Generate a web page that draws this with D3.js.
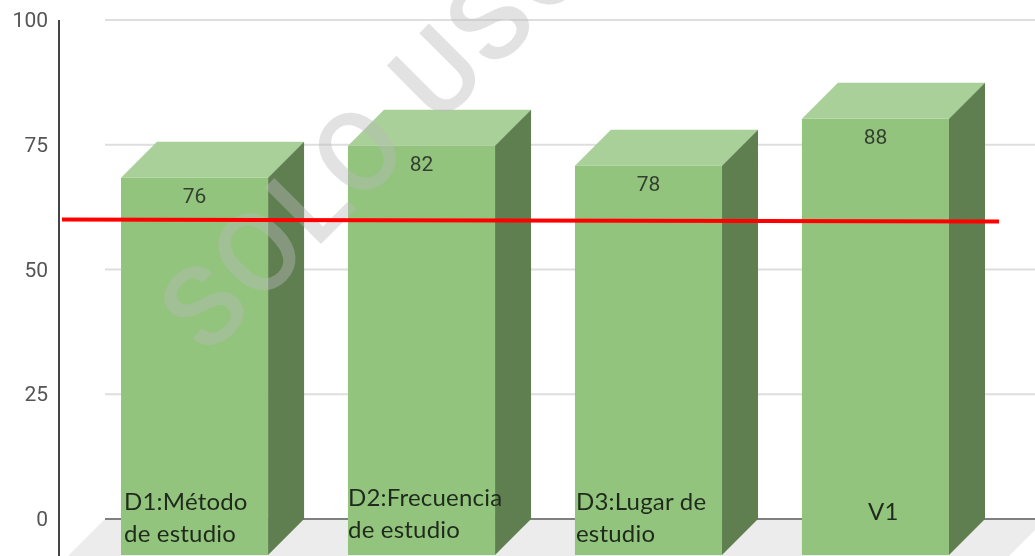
<!DOCTYPE html>
<html>
<head>
<meta charset="utf-8">
<script src="https://cdn.jsdelivr.net/npm/d3@7"></script>
<style>
  html, body { margin: 0; padding: 0; background: #fff; overflow: hidden; }
  svg { display: block; filter: blur(0.45px); }
</style>
</head>
<body>
<svg id="chart" width="1035" height="556"></svg>
<script>
var categories = ["D1", "D2", "D3", "V1"];
// bar heights, the printed labels differ slightly
var values = [75.6, 82, 78, 87.4];
var valueLabels = ["76", "82", "78", "88"];
var yTicks = [0, 25, 50, 75, 100];
var catLines = [["D1:Método", "de estudio"], ["D2:Frecuencia", "de estudio"], ["D3:Lugar de", "estudio"], ["V1"]];
var refLine = [60, 59.6];

var width = 1035, height = 556;
var depth = 36;
var svg = d3.select("#chart");

var y = d3.scaleLinear().domain([0, 100]).range([519, 20]);
var x = d3.scaleBand().domain(categories).range([121, 949]).paddingInner(0.352).paddingOuter(0);
var xLine = d3.scaleLinear().domain([0, 1]).range([62, 999]);
var bw = x.bandwidth();

// floor
svg.append("polygon")
  .attr("points", [[105, y(0)], [1046, y(0)], [1009, height], [68, height]].join(" "))
  .attr("fill", "#ececec");

// grid
svg.selectAll(".grid").data(yTicks).enter().append("line")
  .attr("class", "grid")
  .attr("x1", 105).attr("x2", width)
  .attr("y1", function(d) { return y(d); })
  .attr("y2", function(d) { return y(d); })
  .attr("stroke", function(d) { return d == 0 ? "#808080" : "#dedede"; })
  .attr("stroke-width", 2);

// axis
var yAxis = d3.axisLeft(y).tickValues(yTicks).tickSize(0).tickPadding(11);
var axisG = svg.append("g").attr("transform", "translate(59,0)").call(yAxis);
axisG.select(".domain").remove();
axisG.selectAll("text")
  .attr("font-family", "Roboto, Arial, sans-serif")
  .attr("font-size", 21)
  .attr("fill", "#555");
svg.append("line")
  .attr("x1", 59).attr("x2", 59).attr("y1", y(100)).attr("y2", height)
  .attr("stroke", "#444").attr("stroke-width", 2);

// bars
var bar = svg.selectAll(".bar").data(values).enter().append("g").attr("class", "bar");
bar.append("polygon")
  .attr("fill", "#a9d098")
  .attr("points", function(d, i) {
    var x0 = x(categories[i]), top = y(d) + depth;
    return [[x0, top], [x0 + bw, top], [x0 + bw + depth, top - depth], [x0 + depth, top - depth]].join(" ");
  });
bar.append("polygon")
  .attr("fill", "#5f7f50")
  .attr("points", function(d, i) {
    var x1 = x(categories[i]) + bw, top = y(d) + depth;
    return [[x1, top], [x1 + depth, top - depth], [x1 + depth, y(0)], [x1, y(0) + depth]].join(" ");
  });
bar.append("rect")
  .attr("fill", "#92c47d")
  .attr("x", function(d, i) { return x(categories[i]); })
  .attr("y", function(d) { return y(d) + depth; })
  .attr("width", bw)
  .attr("height", function(d) { return y(0) - y(d); });

// value labels
bar.append("text")
  .attr("x", function(d, i) { return x(categories[i]) + bw / 2; })
  .attr("y", function(d) { return y(d) + depth + 25; })
  .attr("text-anchor", "middle")
  .attr("font-family", "Roboto, Arial, sans-serif")
  .attr("font-size", 21)
  .attr("fill", "#33402f")
  .text(function(d, i) { return valueLabels[i]; });

// watermark
svg.append("text")
  .attr("transform", "translate(207,358) rotate(-45)")
  .attr("font-family", "Roboto, Arial, sans-serif")
  .attr("font-weight", 500)
  .attr("font-size", 112)
  .attr("letter-spacing", 4)
  .attr("fill", "#bababa")
  .attr("fill-opacity", 0.42)
  .text("SOLO USO");

// reference line
svg.append("line")
  .attr("x1", xLine(0)).attr("x2", xLine(1))
  .attr("y1", y(refLine[0])).attr("y2", y(refLine[1]))
  .attr("stroke", "#ff0000").attr("stroke-width", 4);

// category labels
var catX = [124, 348, 576, 868];
var catY = [510, 506, 510, 520];
var cat = svg.selectAll(".cat").data(catLines).enter().append("text")
  .attr("class", "cat")
  .attr("font-family", "Lato, Carlito, sans-serif")
  .attr("font-size", 24)
  .attr("letter-spacing", 0.2)
  .attr("fill", "#1f2a1c");
cat.selectAll("tspan").data(function(d, i) { return d.map(function(s) { return {s: s, i: i}; }); })
  .enter().append("tspan")
  .attr("x", function(d) { return catX[d.i]; })
  .attr("y", function(d, j) { return catY[d.i] + j * 32; })
  .text(function(d) { return d.s; });
</script>
</body>
</html>
